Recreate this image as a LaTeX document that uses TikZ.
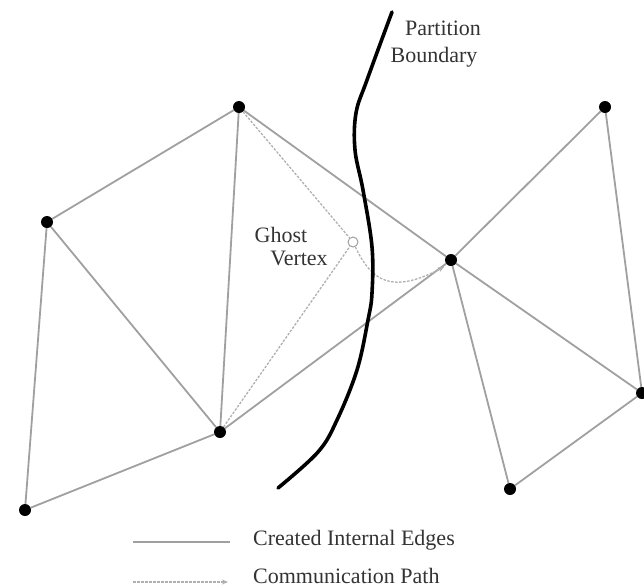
\documentclass[tikz,border=0pt]{standalone}
\usepackage{fontspec}
\setmainfont{Liberation Serif}
\usetikzlibrary{arrows.meta,backgrounds}
\definecolor{edgegray}{HTML}{A0A0A0}
\definecolor{commgray}{HTML}{B0B0B0}
\definecolor{txtgray}{HTML}{333333}
\tikzset{
  vdot/.style={circle,fill=black,inner sep=0pt,minimum size=12pt},
  ghostv/.style={circle,draw=edgegray,line width=1pt,fill=white,inner sep=0pt,minimum size=10pt},
  iedge/.style={draw=edgegray,line width=1.8pt},
  comm/.style={draw=commgray,line width=1.3pt,dash pattern=on 2.5pt off 1.5pt},
  commarrow/.style={comm,-{Stealth[length=6pt,width=5pt,fill=edgegray]}},
  boundary/.style={draw=black,line width=3.6pt,line cap=round},
  lbl/.style={font=\fontsize{22}{26}\selectfont,text=txtgray,inner sep=0pt},
}
\begin{document}
\begin{tikzpicture}[x=1pt,y=-1pt]
\useasboundingbox (0,0) rectangle (644,587);
% vertices
\node[vdot] (A) at (239,107) {};
\node[vdot] (B) at (47,222) {};
\node[vdot] (C) at (220,432) {};
\node[vdot] (D) at (25,510) {};
\node[vdot] (E) at (451,260) {};
\node[vdot] (F) at (605,107) {};
\node[vdot] (G) at (642,393) {};
\node[vdot] (H) at (510,489) {};
\node[ghostv] (GV) at (353,242) {};
% internal edges and communication paths behind the vertices
\begin{pgfonlayer}{background}
\path[iedge] (A) -- (B);
\path[iedge] (A) -- (C);
\path[iedge] (A) -- (E);
\path[iedge] (B) -- (C);
\path[iedge] (B) -- (D);
\path[iedge] (C) -- (D);
\path[iedge] (C) -- (E);
\path[iedge] (E) -- (F);
\path[iedge] (E) -- (G);
\path[iedge] (E) -- (H);
\path[iedge] (F) -- (G);
\path[iedge] (G) -- (H);
\path[comm] (A) -- (GV);
\path[comm] (C) -- (GV);
\path[commarrow] (GV) .. controls (372,282) and (392,294) .. ([shift={(-7,7)}]E.center);
\end{pgfonlayer}
% partition boundary
\path[boundary] plot[smooth,tension=0.6] coordinates {(392,12) (367,80) (356,113) (355,150) (363,190) (372,247) (372,293) (368,320) (357,370) (337,420) (318,452) (278,488)};
% labels
\node[lbl,anchor=base] (pt) at (443,35) {Partition};
\node[lbl,anchor=base] (bd) at (434,62) {Boundary};
\node[lbl,anchor=base] (gh) at (281,242) {Ghost};
\node[lbl,anchor=base] (vx) at (299,265) {Vertex};
% legend
\coordinate (l1a) at (133,542);
\coordinate (l1b) at (230,542);
\coordinate (l2a) at (133,582);
\coordinate (l2b) at (228,582);
\path[iedge,line width=1.4pt] (l1a) -- (l1b);
\path[commarrow] (l2a) -- (l2b);
\node[lbl,anchor=base west] (t1) at (253,545) {Created Internal Edges};
\node[lbl,anchor=base west] (t2) at (253,583) {Communication Path};
\end{tikzpicture}
\end{document}
